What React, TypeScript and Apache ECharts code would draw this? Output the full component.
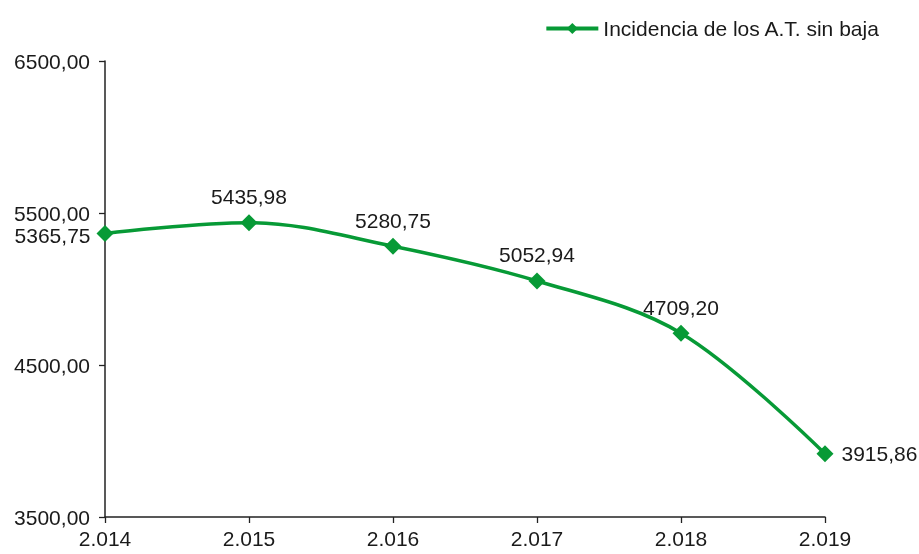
import React, { useEffect, useRef } from "react";
import * as echarts from "echarts";

const years = ["2.014", "2.015", "2.016", "2.017", "2.018", "2.019"];
const incidencia = [5365.75, 5435.98, 5280.75, 5052.94, 4709.2, 3915.86];
const seriesName = "Incidencia de los A.T. sin baja";

const fmt = (v: number) => v.toFixed(2).replace(".", ",");

export default function App() {
  const ref = useRef<HTMLDivElement>(null);
  useEffect(() => {
    if (!ref.current) return;
    const chart = echarts.init(ref.current, null, { renderer: "svg" });
    const font = "'Liberation Sans', Arial, sans-serif";
    const green = "#079a36";
    const fs = 21;
    const lh = 19;
    const data = incidencia.map((v, i) => {
      const last = i === incidencia.length - 1;
      const first = i === 0;
      return {
        value: v,
        label: {
          position: first ? "left" : last ? "right" : "top",
          distance: first ? 6 : last ? 8 : 8,
          offset: first ? [0, 2] : [0, 0],
        },
      };
    });
    chart.setOption({
      animation: false,
      textStyle: { fontFamily: font },
      grid: { left: 105, right: 94, top: 61, bottom: 37, containLabel: false },
      legend: {
        right: 34,
        top: 13,
        itemWidth: 52,
        itemHeight: 14,
        textStyle: { fontSize: fs, color: "#1a1a1a", fontFamily: font },
        data: [{ name: seriesName, lineStyle: { width: 4, color: green } }],
      },
      xAxis: {
        type: "category",
        data: years,
        boundaryGap: false,
        axisLine: { lineStyle: { color: "#222", width: 1.5 } },
        axisTick: { show: true, length: 6, alignWithLabel: true, lineStyle: { color: "#222", width: 1.3 } },
        axisLabel: { fontSize: fs, lineHeight: lh, color: "#1a1a1a", margin: 12, fontFamily: font },
        splitLine: { show: false },
      },
      yAxis: {
        type: "value",
        min: 3500,
        max: 6500,
        interval: 1000,
        axisLine: { show: true, lineStyle: { color: "#222", width: 1.5 } },
        axisTick: { show: true, length: 6, lineStyle: { color: "#222", width: 1.3 } },
        axisLabel: {
          fontSize: fs,
          lineHeight: lh,
          color: "#1a1a1a",
          margin: 15,
          fontFamily: font,
          formatter: (v: number) => fmt(v),
        },
        splitLine: { show: false },
      },
      series: [
        {
          name: seriesName,
          type: "line",
          data,
          smooth: 0.35,
          symbol: "diamond",
          symbolSize: 17,
          lineStyle: { color: green, width: 3.5 },
          itemStyle: { color: green },
          label: {
            show: true,
            fontSize: fs,
            lineHeight: lh,
            color: "#1a1a1a",
            fontFamily: font,
            formatter: (p: any) => fmt(p.value),
          },
        },
      ],
    });
    return () => chart.dispose();
  }, []);
  return (
    <div
      ref={ref}
      style={{ width: 919, height: 554, position: "fixed", left: 0, top: 0 }}
    />
  );
}
